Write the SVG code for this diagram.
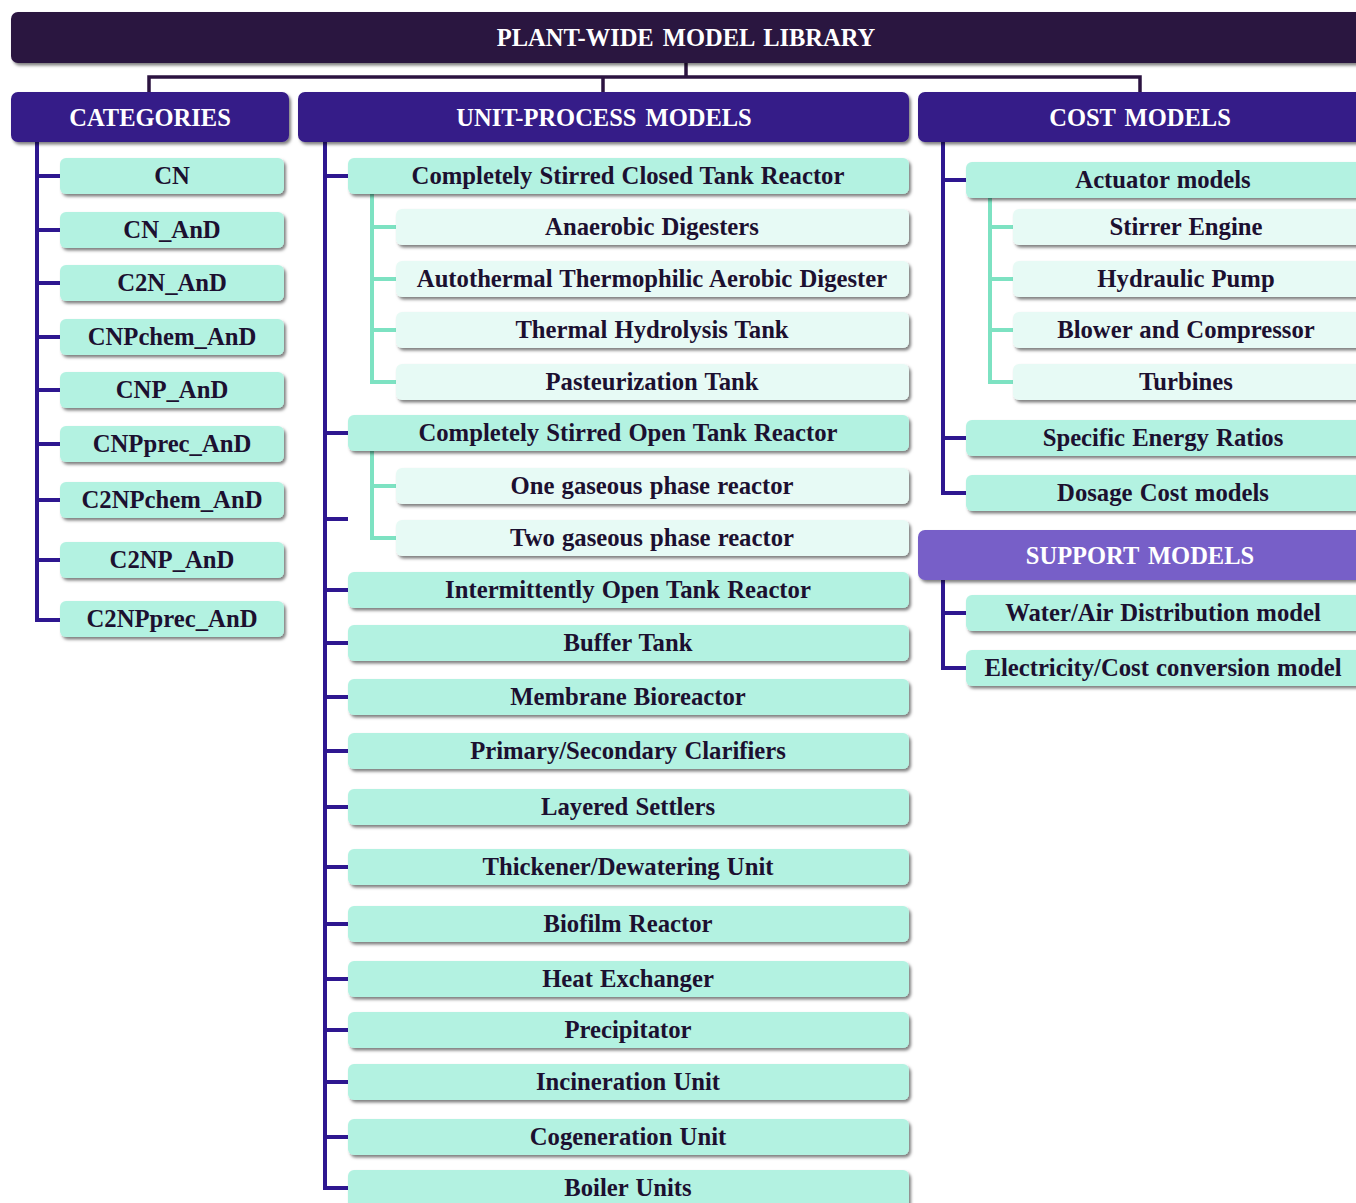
<svg xmlns="http://www.w3.org/2000/svg" width="1356" height="1203" viewBox="0 0 1356 1203">
<defs>
<filter id="sh" x="-5%" y="-20%" width="110%" height="150%">
<feDropShadow dx="2" dy="2.5" stdDeviation="1.5" flood-color="#000" flood-opacity="0.5"/>
</filter>
<style>
.title{fill:#2b1340;filter:url(#sh)}
.hdr{fill:#351a88;filter:url(#sh)}
.sup{fill:#775fc8;filter:url(#sh)}
.box{fill:#b3f2e1;filter:url(#sh)}
.sub{fill:#e7faf5;filter:url(#sh)}
.ht{font-family:"Liberation Serif",serif;font-weight:bold;font-size:24.5px;fill:#ffffff;text-anchor:middle;word-spacing:3px}
.t{font-family:"Liberation Serif",serif;font-weight:bold;font-size:24.7px;fill:#1c1030;text-anchor:middle;word-spacing:1px}
.c{stroke:#2e1790;stroke-width:4;fill:none}
.cd{stroke:#2b1340;stroke-width:3.5;fill:none}
.cl{stroke:#7de2c2;stroke-width:4;fill:none}
</style>
</defs>
<rect width="1356" height="1203" fill="#ffffff"/>

<g id="connectors">
<path class="cd" d="M686 63V77M149 92V77H1140V92M603 77V92"/>
<path class="c" d="M37 142V620H60M37 176H60M37 230H60M37 283H60M37 337H60M37 390H60M37 444H60M37 500H60M37 560H60"/>
<path class="c" d="M325 142V1188H348M325 176H348M325 433H348M325 519H348M325 590H348M325 643H348M325 697H348M325 751H348M325 807H348M325 867H348M325 924H348M325 979H348M325 1030H348M325 1082H348M325 1137H348"/>
<path class="cl" d="M372 194V382H396M372 227H396M372 279H396M372 330H396"/>
<path class="cl" d="M372 451V538H396M372 486H396"/>
<path class="c" d="M943 142V493H966M943 180H966M943 438H966"/>
<path class="cl" d="M990 198V382H1013M990 227H1013M990 279H1013M990 330H1013"/>
<path class="c" d="M943 580V668H966M943 613H966"/>
</g>

<g id="title"><rect class="title" x="11" y="12" width="1360" height="51" rx="7"/><text class="ht" x="686" y="46">PLANT-WIDE MODEL LIBRARY</text></g>

<g id="categories"><rect class="hdr" x="11" y="92" width="278" height="50" rx="7"/><text class="ht" x="150" y="126">CATEGORIES</text></g>
<g id="unit-process"><rect class="hdr" x="298" y="92" width="611" height="50" rx="7"/><text class="ht" x="604" y="126">UNIT-PROCESS MODELS</text></g>
<g id="cost"><rect class="hdr" x="918" y="92" width="450" height="50" rx="7"/><text class="ht" x="1140" y="126">COST MODELS</text></g>
<g id="support"><rect class="sup" x="918" y="530" width="450" height="50" rx="7"/><text class="ht" x="1140" y="564">SUPPORT MODELS</text></g>

<g id="cat-cn"><rect class="box" x="60" y="158" width="224" height="36" rx="6"/><text class="t" x="172" y="184">CN</text></g>
<g id="cat-cn-and"><rect class="box" x="60" y="212" width="224" height="36" rx="6"/><text class="t" x="172" y="238">CN_AnD</text></g>
<g id="cat-c2n-and"><rect class="box" x="60" y="265" width="224" height="36" rx="6"/><text class="t" x="172" y="291">C2N_AnD</text></g>
<g id="cat-cnpchem"><rect class="box" x="60" y="319" width="224" height="36" rx="6"/><text class="t" x="172" y="345">CNPchem_AnD</text></g>
<g id="cat-cnp"><rect class="box" x="60" y="372" width="224" height="36" rx="6"/><text class="t" x="172" y="398">CNP_AnD</text></g>
<g id="cat-cnpprec"><rect class="box" x="60" y="426" width="224" height="36" rx="6"/><text class="t" x="172" y="452">CNPprec_AnD</text></g>
<g id="cat-c2npchem"><rect class="box" x="60" y="482" width="224" height="36" rx="6"/><text class="t" x="172" y="508">C2NPchem_AnD</text></g>
<g id="cat-c2np"><rect class="box" x="60" y="542" width="224" height="36" rx="6"/><text class="t" x="172" y="568">C2NP_AnD</text></g>
<g id="cat-c2npprec"><rect class="box" x="60" y="601" width="224" height="36" rx="6"/><text class="t" x="172" y="627">C2NPprec_AnD</text></g>

<g id="u-cstr-closed"><rect class="box" x="348" y="158" width="561" height="36" rx="6"/><text class="t" x="628" y="184">Completely Stirred Closed Tank Reactor</text></g>
<g id="u-anaerobic"><rect class="sub" x="396" y="209" width="513" height="36" rx="6"/><text class="t" x="652" y="235">Anaerobic Digesters</text></g>
<g id="u-atad"><rect class="sub" x="396" y="261" width="513" height="36" rx="6"/><text class="t" x="652" y="287">Autothermal Thermophilic Aerobic Digester</text></g>
<g id="u-thermal"><rect class="sub" x="396" y="312" width="513" height="36" rx="6"/><text class="t" x="652" y="338">Thermal Hydrolysis Tank</text></g>
<g id="u-past"><rect class="sub" x="396" y="364" width="513" height="36" rx="6"/><text class="t" x="652" y="390">Pasteurization Tank</text></g>
<g id="u-cstr-open"><rect class="box" x="348" y="415" width="561" height="36" rx="6"/><text class="t" x="628" y="441">Completely Stirred Open Tank Reactor</text></g>
<g id="u-one-gas"><rect class="sub" x="396" y="468" width="513" height="36" rx="6"/><text class="t" x="652" y="494">One gaseous phase reactor</text></g>
<g id="u-two-gas"><rect class="sub" x="396" y="520" width="513" height="36" rx="6"/><text class="t" x="652" y="546">Two gaseous phase reactor</text></g>
<g id="u-intermittent"><rect class="box" x="348" y="572" width="561" height="36" rx="6"/><text class="t" x="628" y="598">Intermittently Open Tank Reactor</text></g>
<g id="u-buffer"><rect class="box" x="348" y="625" width="561" height="36" rx="6"/><text class="t" x="628" y="651">Buffer Tank</text></g>
<g id="u-mbr"><rect class="box" x="348" y="679" width="561" height="36" rx="6"/><text class="t" x="628" y="705">Membrane Bioreactor</text></g>
<g id="u-clarifiers"><rect class="box" x="348" y="733" width="561" height="36" rx="6"/><text class="t" x="628" y="759">Primary/Secondary Clarifiers</text></g>
<g id="u-settlers"><rect class="box" x="348" y="789" width="561" height="36" rx="6"/><text class="t" x="628" y="815">Layered Settlers</text></g>
<g id="u-thickener"><rect class="box" x="348" y="849" width="561" height="36" rx="6"/><text class="t" x="628" y="875">Thickener/Dewatering Unit</text></g>
<g id="u-biofilm"><rect class="box" x="348" y="906" width="561" height="36" rx="6"/><text class="t" x="628" y="932">Biofilm Reactor</text></g>
<g id="u-heat"><rect class="box" x="348" y="961" width="561" height="36" rx="6"/><text class="t" x="628" y="987">Heat Exchanger</text></g>
<g id="u-precip"><rect class="box" x="348" y="1012" width="561" height="36" rx="6"/><text class="t" x="628" y="1038">Precipitator</text></g>
<g id="u-incin"><rect class="box" x="348" y="1064" width="561" height="36" rx="6"/><text class="t" x="628" y="1090">Incineration Unit</text></g>
<g id="u-cogen"><rect class="box" x="348" y="1119" width="561" height="36" rx="6"/><text class="t" x="628" y="1145">Cogeneration Unit</text></g>
<g id="u-boiler"><rect class="box" x="348" y="1170" width="561" height="40" rx="6"/><text class="t" x="628" y="1196">Boiler Units</text></g>

<g id="c-actuator"><rect class="box" x="966" y="162" width="400" height="36" rx="6"/><text class="t" x="1163" y="188">Actuator models</text></g>
<g id="c-stirrer"><rect class="sub" x="1013" y="209" width="353" height="36" rx="6"/><text class="t" x="1186" y="235">Stirrer Engine</text></g>
<g id="c-pump"><rect class="sub" x="1013" y="261" width="353" height="36" rx="6"/><text class="t" x="1186" y="287">Hydraulic Pump</text></g>
<g id="c-blower"><rect class="sub" x="1013" y="312" width="353" height="36" rx="6"/><text class="t" x="1186" y="338">Blower and Compressor</text></g>
<g id="c-turbines"><rect class="sub" x="1013" y="364" width="353" height="36" rx="6"/><text class="t" x="1186" y="390">Turbines</text></g>
<g id="c-ser"><rect class="box" x="966" y="420" width="400" height="36" rx="6"/><text class="t" x="1163" y="446">Specific Energy Ratios</text></g>
<g id="c-dosage"><rect class="box" x="966" y="475" width="400" height="36" rx="6"/><text class="t" x="1163" y="501">Dosage Cost models</text></g>
<g id="s-water"><rect class="box" x="966" y="595" width="400" height="36" rx="6"/><text class="t" x="1163" y="621">Water/Air Distribution model</text></g>
<g id="s-elec"><rect class="box" x="966" y="650" width="400" height="36" rx="6"/><text class="t" x="1163" y="676">Electricity/Cost conversion model</text></g>
</svg>
